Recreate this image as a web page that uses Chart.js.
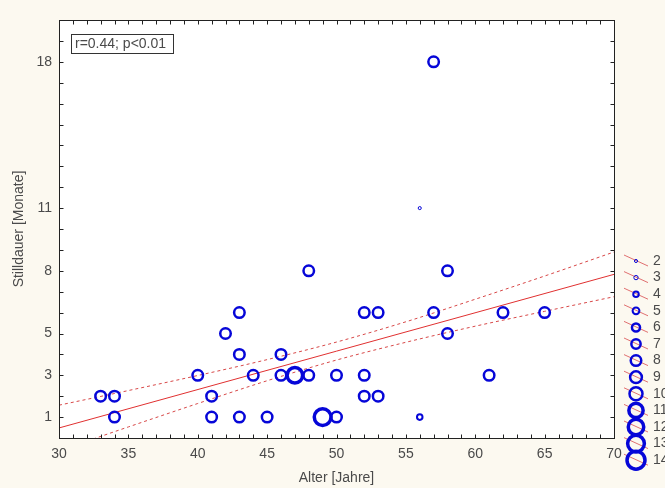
<!DOCTYPE html>
<html lang="de">
<head>
  <meta charset="UTF-8" />
  <title>Stilldauer vs. Alter</title>
  <script src="https://cdn.jsdelivr.net/npm/chart.js"></script>
  <style>
    body {
      margin: 0;
      background: #fcf9f0;
    }
    canvas {
      display: block;
    }
  </style>
</head>
<body>
  <canvas id="scatterChart" width="665" height="488"></canvas>

  <script>
    // Beobachtungen: Alter [Jahre], Stilldauer [Monate], Kreisgroesse (Legende 2..14)
    const ageYears = [33, 34, 34, 40, 41, 41, 42, 43, 43, 43, 44, 45, 46, 46, 47, 48, 48,
                      49, 50, 50, 52, 53, 52, 52, 53, 56, 56, 57, 57, 58, 58, 61, 62, 65];
    const stillMonths = [2, 2, 1, 3, 2, 1, 5, 6, 4, 1, 3, 1, 4, 3, 3, 3, 8,
                         1, 1, 3, 6, 6, 3, 2, 2, 11, 1, 18, 6, 8, 5, 3, 6, 6];
    const groupSize = [8, 8, 8, 8, 8, 8, 8, 8, 8, 8, 8, 8, 8, 8, 12, 8, 8,
                       13, 8, 8, 8, 8, 8, 8, 8, 2, 4, 8, 8, 8, 8, 8, 8, 8];

    // Regressionsgerade und Konfidenzband
    const fitX = [30, 70];
    const fitY = [0.48, 7.83];
    const bandX = [30, 35, 40, 45, 50, 55, 60, 65, 70];
    const bandUpper = [1.57, 2.27, 2.99, 3.75, 4.59, 5.56, 6.64, 7.75, 8.90];
    const bandLower = [-0.61, 0.53, 1.65, 2.74, 3.73, 4.58, 5.35, 6.06, 6.76];

    const xTickLabels = [30, 35, 40, 45, 50, 55, 60, 65, 70];
    const yTickLabels = [1, 3, 5, 8, 11, 18];
    const legendSizes = [2, 3, 4, 5, 6, 7, 8, 9, 10, 11, 12, 13, 14];

    const fontFamily = "'Liberation Sans', Arial, sans-serif";
    const blue = '#0606d8';
    const textGray = '#4a4a4a';

    const radiusFor = (s) => 0.62 * s + 0.3;
    const widthFor = (s) => s < 4 ? 1 : (s < 6 ? 2 : (s < 11 ? 2.5 : 3.5));

    const toPoints = (xs, ys) => xs.map((x, i) => ({ x: x, y: ys[i] }));

    const framePlugin = {
      id: 'frame',
      beforeDraw(chart) {
        const { ctx, chartArea: a } = chart;
        ctx.save();
        ctx.fillStyle = '#fcf9f0';
        ctx.fillRect(0, 0, chart.width, chart.height);
        ctx.fillStyle = '#ffffff';
        ctx.fillRect(a.left, a.top, a.right - a.left, a.bottom - a.top);
        ctx.restore();
      },
      afterDatasetsDraw(chart) {
        const { ctx, chartArea: a, scales } = chart;
        const l = Math.round(a.left) + 0.5, r = Math.round(a.right) + 0.5;
        const t = Math.round(a.top) + 0.5, b = Math.round(a.bottom) + 0.5;
        ctx.save();
        ctx.strokeStyle = '#222222';
        ctx.lineWidth = 1;
        ctx.strokeRect(l, t, r - l, b - t);

        // kleine Striche nach innen, auf allen vier Seiten
        ctx.beginPath();
        for (let v = 30; v <= 70; v++) {
          const px = Math.round(scales.x.getPixelForValue(v)) + 0.5;
          ctx.moveTo(px, b); ctx.lineTo(px, b - 4);
          ctx.moveTo(px, t); ctx.lineTo(px, t + 4);
        }
        for (let v = 0; v <= 20; v++) {
          const py = Math.round(scales.y.getPixelForValue(v)) + 0.5;
          ctx.moveTo(l, py); ctx.lineTo(l + 4, py);
          ctx.moveTo(r, py); ctx.lineTo(r - 4, py);
        }
        ctx.stroke();

        // Korrelationsbox
        ctx.fillStyle = '#ffffff';
        ctx.fillRect(71.5, 34.5, 102, 19);
        ctx.strokeStyle = '#333333';
        ctx.strokeRect(71.5, 34.5, 102, 19);
        ctx.fillStyle = textGray;
        ctx.font = '14px ' + fontFamily;
        ctx.textBaseline = 'middle';
        ctx.textAlign = 'left';
        ctx.fillText('r=0.44; p<0.01', 75, 44.5);

        // Groessenlegende rechts
        legendSizes.forEach((s, i) => {
          const y = 261 + i * 16.6;
          ctx.strokeStyle = '#e07070';
          ctx.lineWidth = 1;
          ctx.beginPath();
          ctx.moveTo(624, y - 6);
          ctx.lineTo(648, y + 5);
          ctx.stroke();
          ctx.strokeStyle = blue;
          ctx.lineWidth = widthFor(s);
          ctx.beginPath();
          ctx.arc(636, y, radiusFor(s), 0, Math.PI * 2);
          ctx.stroke();
          ctx.fillStyle = textGray;
          ctx.fillText(String(s), 653, y);
        });
        ctx.restore();
      }
    };

    new Chart(document.getElementById('scatterChart'), {
      type: 'scatter',
      data: {
        datasets: [
          {
            label: 'Stilldauer',
            data: toPoints(ageYears, stillMonths),
            pointStyle: 'circle',
            pointRadius: (c) => radiusFor(groupSize[c.dataIndex]),
            pointBorderWidth: (c) => widthFor(groupSize[c.dataIndex]),
            borderColor: blue,
            backgroundColor: 'rgba(0,0,0,0)',
            pointHoverRadius: (c) => radiusFor(groupSize[c.dataIndex])
          },
          {
            label: 'Regression',
            data: toPoints(fitX, fitY),
            showLine: true,
            pointRadius: 0,
            borderColor: '#e03030',
            borderWidth: 1
          },
          {
            label: 'Konfidenz oben',
            data: toPoints(bandX, bandUpper),
            showLine: true,
            pointRadius: 0,
            borderColor: '#d84848',
            borderWidth: 1,
            borderDash: [3, 3],
            cubicInterpolationMode: 'monotone'
          },
          {
            label: 'Konfidenz unten',
            data: toPoints(bandX, bandLower),
            showLine: true,
            pointRadius: 0,
            borderColor: '#d84848',
            borderWidth: 1,
            borderDash: [3, 3],
            cubicInterpolationMode: 'monotone'
          }
        ]
      },
      options: {
        responsive: false,
        animation: false,
        layout: { padding: { top: 20, right: 51, left: 0, bottom: 0 } },
        plugins: {
          legend: { display: false },
          tooltip: { enabled: false }
        },
        scales: {
          x: {
            type: 'linear',
            min: 30,
            max: 70,
            afterFit: (s) => { s.height = 50; },
            grid: { display: false, drawTicks: false },
            border: { display: false },
            ticks: {
              stepSize: 1,
              autoSkip: false,
              maxRotation: 0,
              padding: 8,
              color: textGray,
              font: { family: fontFamily, size: 14 },
              callback: (v) => xTickLabels.includes(v) ? String(v) : ''
            },
            title: {
              display: true,
              text: 'Alter [Jahre]',
              color: textGray,
              font: { family: fontFamily, size: 14 },
              padding: { top: 0, bottom: 1 }
            }
          },
          y: {
            type: 'linear',
            min: 0,
            max: 20,
            afterFit: (s) => { s.width = 59; },
            grid: { display: false, drawTicks: false },
            border: { display: false },
            ticks: {
              stepSize: 1,
              autoSkip: false,
              padding: 7,
              color: textGray,
              font: { family: fontFamily, size: 14 },
              callback: (v) => yTickLabels.includes(v) ? String(v) : ''
            },
            title: {
              display: true,
              text: 'Stilldauer [Monate]',
              color: textGray,
              font: { family: fontFamily, size: 14 },
              padding: { top: 11, bottom: 0 }
            }
          }
        }
      },
      plugins: [framePlugin]
    });
  </script>
</body>
</html>
